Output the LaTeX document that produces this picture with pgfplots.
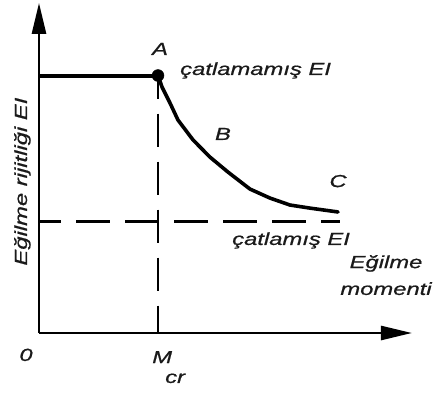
\documentclass[border=0pt]{standalone}
\usepackage{pgfplots}
\pgfplotsset{compat=1.18}
\usetikzlibrary{arrows.meta}
\usepackage{fontspec}
\setmainfont{Liberation Sans}[FakeStretch=1.36, FakeBold=0.8]
\definecolor{ink}{HTML}{1A1A1A}
\newcommand\lab{\fontsize{17.5bp}{21bp}\selectfont\itshape\color{ink}}

\begin{document}
\begin{tikzpicture}
\useasboundingbox (0,0) rectangle (433bp,-394bp);
\begin{axis}[
  at={(39bp,-333bp)}, anchor=origin,
  x=119bp, y=257.5bp,
  xmin=0, xmax=3.134, ymin=0, ymax=1.282,
  axis lines=left,
  axis line style={line width=2.6bp, -{Triangle[length=31bp,width=14bp]}},
  ticks=none,
  clip=false,
]
% uncracked stiffness up to the cracking moment
\addplot[line width=4bp, black] coordinates {(0,1) (1,1)};
% cracking moment and cracked stiffness
\addplot[line width=2.3bp, black, dash pattern=on 33bp off 15bp, dash phase=10bp]
  coordinates {(1,1) (1,0)};
\addplot[line width=2.3bp, black, dash pattern=on 34bp off 15bp, dash phase=12bp]
  coordinates {(0,0.433) (2.53,0.433)};
% stiffness after cracking
\addplot[line width=3.6bp, black, line join=round, line cap=round] coordinates {
  (1,1) (1.034,0.955) (1.101,0.893) (1.168,0.827) (1.294,0.750)
  (1.437,0.683) (1.588,0.625) (1.773,0.559) (1.941,0.524)
  (2.109,0.497) (2.277,0.485) (2.513,0.470)};
\addplot[only marks, mark=*, mark size=6bp, black] coordinates {(1,1)};

\node[anchor=center] at (axis cs:1.017,1.103) {\lab A};
\node[anchor=base west, inner sep=0pt] at (axis cs:1.185,1.002) {\lab çatlamamış EI};
\node[anchor=center] at (axis cs:1.546,0.773) {\lab B};
\node[anchor=center] at (axis cs:2.513,0.590) {\lab C};
\node[anchor=base west, inner sep=0pt] at (axis cs:1.622,0.342) {\lab çatlamış EI};
\node[anchor=base, inner sep=0pt] at (axis cs:2.916,0.252) {\lab Eğilme};
\node[anchor=base, inner sep=0pt] at (axis cs:2.916,0.148) {\lab momenti};
\node[anchor=center] at (axis cs:-0.109,-0.085) {\lab 0};
\node[anchor=base west, inner sep=0pt] at (axis cs:0.950,-0.117) {\lab M};
\node[anchor=base west, inner sep=0pt] at (axis cs:1.059,-0.194) {\lab cr};
\node[anchor=base, rotate=90, inner sep=0pt] at (axis cs:-0.101,0.588) {\lab Eğilme rijitliği EI};
\end{axis}
\end{tikzpicture}
\end{document}
